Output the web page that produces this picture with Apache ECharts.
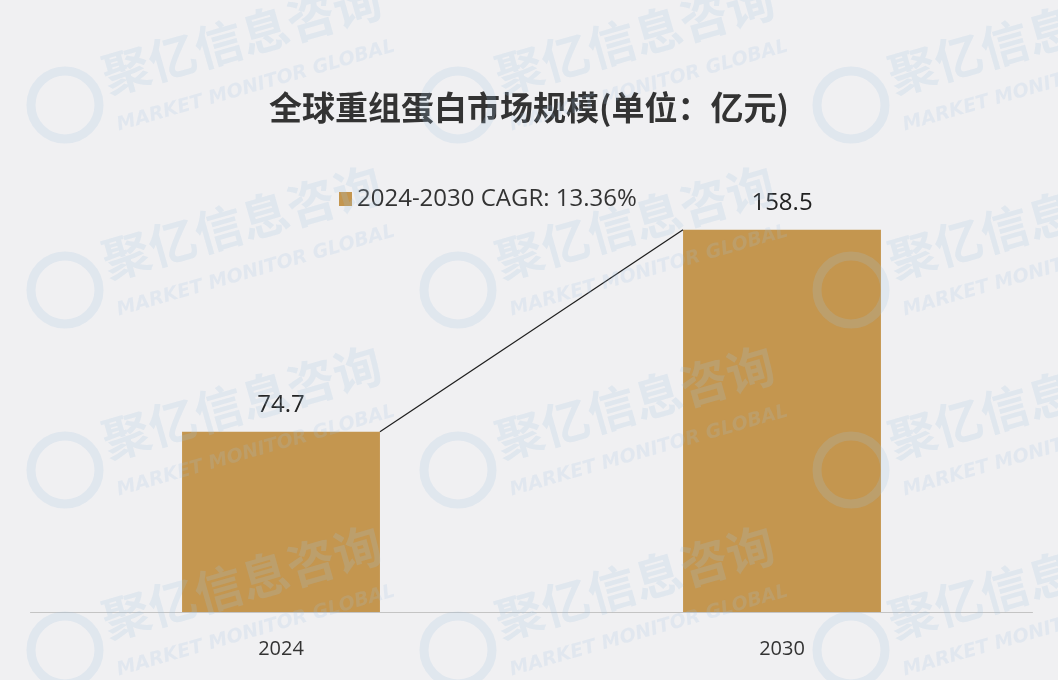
<!DOCTYPE html>
<html>
<head>
<meta charset="utf-8">
<script src="https://cdn.jsdelivr.net/npm/echarts@6/dist/echarts.min.js"></script>
<style>
html,body{margin:0;padding:0;background:#f0f0f2;}
#c{width:1058px;height:680px;}
</style>
</head>
<body>
<div id="c"></div>
<script>
var categories = ['2024', '2030'];
var values = [74.7, 158.5];
var seriesName = '2024-2030 CAGR: 13.36%';
var titleText = '全球重组蛋白市场规模(单位：亿元)';
var watermarkCn = '聚亿信息咨询';
var watermarkEn = 'MARKET MONITOR GLOBAL';

var BAR_RATIO = 0.395;

// faint repeating watermark (decoration)
var wm = [];
var tileX = [15, 408, 801];
var tileY = [105, 290, 470, 650];
tileX.forEach(function (ox) {
  tileY.forEach(function (oy) {
    wm.push({
      type: 'group', x: ox, y: oy, silent: true,
      children: [
        {type: 'circle', z: 100, shape: {cx: 50, cy: 0, r: 34},
         style: {fill: 'none', stroke: 'rgba(160,195,225,0.2)', lineWidth: 9}},
        {type: 'text', z: 100, x: 95, y: -5, rotation: 0.28,
         style: {text: watermarkCn, fill: 'rgba(160,195,225,0.2)', font: 'bold 48px "Noto Sans CJK SC"', textVerticalAlign: 'bottom'}},
        {type: 'text', z: 100, x: 105, y: 30, rotation: 0.28,
         style: {text: watermarkEn, fill: 'rgba(160,195,225,0.18)', font: 'italic bold 19px "DejaVu Sans"', textVerticalAlign: 'bottom'}}
      ]
    });
  });
});

var chart = echarts.init(document.getElementById('c'));
chart.setOption({
  backgroundColor: '#f0f0f2',
  animation: false,
  graphic: wm,
  title: {
    text: titleText,
    left: 'center',
    top: 86,
    textStyle: {fontFamily: 'Noto Sans CJK SC', fontSize: 33, fontWeight: 'bold', color: '#333'}
  },
  legend: {
    data: [seriesName],
    top: 182,
    left: 334,
    icon: 'rect',
    itemWidth: 13,
    itemHeight: 14,
    itemGap: 9,
    textStyle: {fontFamily: 'Open Sans', fontSize: 24, color: '#333'}
  },
  grid: {left: 30.5, right: 25.5, top: 202, bottom: 68, containLabel: false},
  xAxis: {
    type: 'category',
    data: categories,
    axisLine: {lineStyle: {color: '#c4c4c4', width: 1}},
    axisTick: {show: false},
    axisLabel: {fontFamily: 'Open Sans', fontSize: 20, color: '#333', margin: 27}
  },
  yAxis: {
    type: 'value',
    min: 0,
    max: 170,
    show: false,
    splitLine: {show: false}
  },
  series: [
    {
      name: seriesName,
      type: 'bar',
      data: values,
      barWidth: (BAR_RATIO * 100) + '%',
      itemStyle: {color: '#c4964f'},
      label: {
        show: true,
        position: 'top',
        distance: 15,
        fontFamily: 'Open Sans',
        fontSize: 24,
        color: '#222'
      }
    },
    {
      type: 'custom',
      name: 'trend',
      silent: true,
      data: [[0, values[0], 1, values[1]]],
      renderItem: function (params, api) {
        var p0 = api.coord([api.value(0), api.value(1)]);
        var p1 = api.coord([api.value(2), api.value(3)]);
        var bw = api.size([1, 0])[0] * BAR_RATIO;
        return {
          type: 'line',
          shape: {x1: p0[0] + bw / 2, y1: p0[1], x2: p1[0] - bw / 2, y2: p1[1]},
          style: {stroke: '#1e1e1e', lineWidth: 1.2}
        };
      },
      z: 5
    }
  ]
});
</script>
</body>
</html>
